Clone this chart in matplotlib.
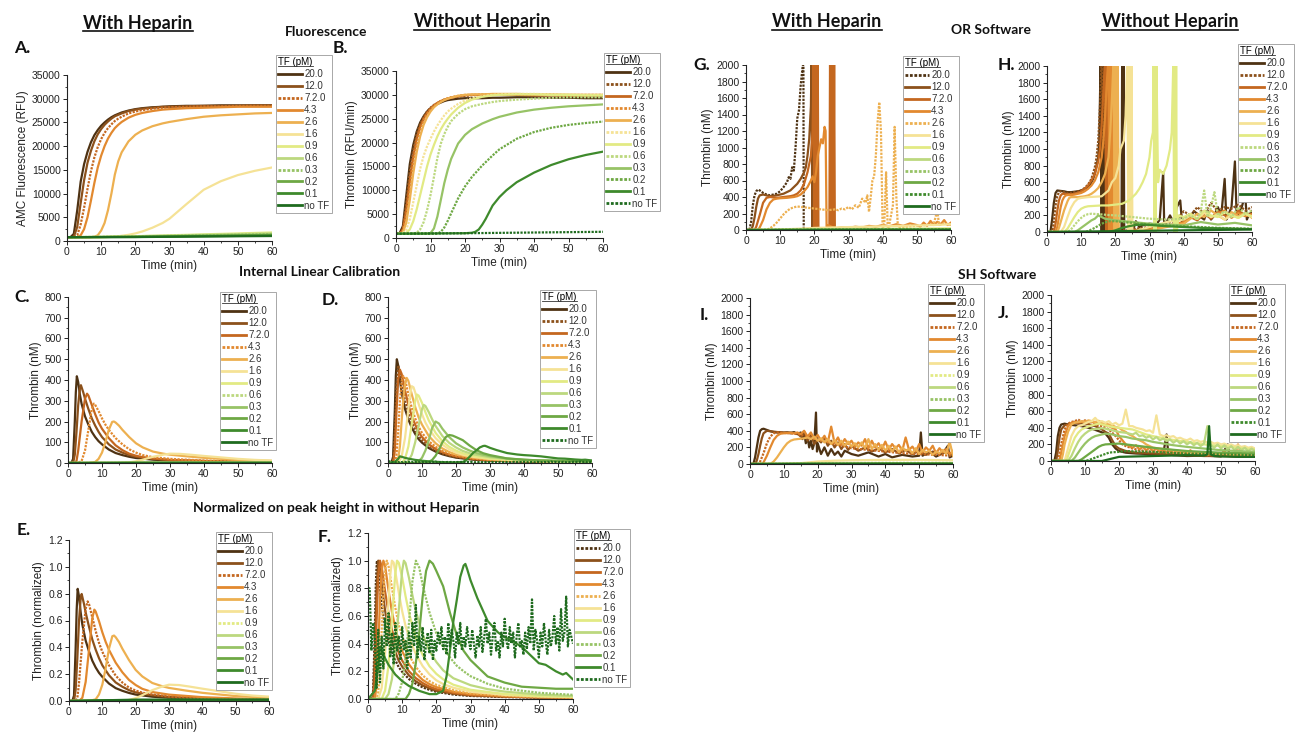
import numpy as np
import matplotlib.pyplot as plt
from matplotlib.lines import Line2D
from matplotlib.transforms import IdentityTransform
from matplotlib.ticker import MultipleLocator, FormatStrFormatter

plt.rcParams['font.family'] = ['Liberation Sans', 'DejaVu Sans']

W, H = 1296, 736

tf_labels = ["20.0", "12.0", "7.2.0", "4.3", "2.6", "1.6", "0.9", "0.6", "0.3", "0.2", "0.1", "no TF"]
tf_colors = ['#4e3213', '#8c511b', '#c4671f', '#e2892f', '#edb050', '#f5e296',
             '#e2ea84', '#bcd87f', '#97c366', '#6ea844', '#3e8a2c', '#1f6b1f']

# peak height of each curve in panel D (without heparin), used for E and F
peak_without = [500, 470, 450, 420, 410, 370, 330, 280, 200, 135, 85, 10]

ab_t = [0, 1, 2, 3, 4, 5, 6, 7, 8, 9, 10, 11, 12, 13, 14, 15, 16, 18, 20, 22, 25, 28, 30, 35, 40, 45, 50, 55, 60]
flat_t = [0, 20, 40, 60]

# ---- A: fluorescence with heparin
a_t = [ab_t] * 7 + [flat_t] * 5
a_y = [
    [800, 800, 1500, 6500, 12500, 16200, 18800, 20800, 22300, 23400, 24300, 25000, 25600, 26100, 26500, 26800, 27100, 27500, 27800, 28000, 28200, 28300, 28400, 28500, 28500, 28600, 28600, 28600, 28600],
    [800, 800, 900, 3000, 8000, 12800, 16500, 19000, 21000, 22500, 23600, 24500, 25200, 25800, 26300, 26600, 26900, 27400, 27700, 27900, 28100, 28300, 28300, 28400, 28500, 28500, 28500, 28600, 28600],
    [800, 800, 800, 1200, 3500, 7000, 11000, 14700, 17600, 19800, 21500, 22800, 23800, 24600, 25300, 25800, 26200, 26900, 27300, 27600, 27900, 28100, 28200, 28300, 28400, 28400, 28500, 28500, 28500],
    [800, 800, 800, 800, 1200, 2500, 5000, 8500, 12200, 15500, 18000, 20000, 21600, 22800, 23800, 24500, 25100, 26000, 26600, 27000, 27400, 27700, 27800, 28000, 28100, 28200, 28300, 28300, 28300],
    [800, 800, 800, 800, 800, 800, 800, 800, 900, 1200, 2200, 3800, 6500, 10000, 14000, 16800, 18700, 21000, 22400, 23300, 24200, 24800, 25100, 25700, 26200, 26500, 26700, 26900, 27000],
    [800, 800, 800, 800, 800, 800, 800, 800, 800, 800, 800, 820, 850, 900, 950, 1000, 1100, 1300, 1600, 2000, 2800, 3800, 4700, 7800, 10800, 12600, 13900, 14800, 15500],
    [800, 800, 800, 800, 800, 800, 800, 800, 800, 800, 820, 830, 850, 870, 890, 910, 930, 970, 1000, 1050, 1100, 1150, 1200, 1300, 1400, 1500, 1600, 1700, 1800],
    [800, 1000, 1300, 1600],
    [800, 950, 1200, 1450],
    [800, 900, 1100, 1300],
    [800, 850, 1000, 1150],
    [800, 830, 950, 1050],
]

# ---- B: fluorescence without heparin
b01_t = [0, 10, 20, 22, 23, 24, 25, 26, 27, 28, 30, 32, 35, 40, 45, 50, 55, 60]
b_t = [ab_t] * 10 + [b01_t, flat_t]
b_y = [
    [900, 900, 2500, 9000, 15500, 19500, 22300, 24200, 25500, 26500, 27200, 27700, 28100, 28400, 28700, 28900, 29000, 29200, 29300, 29300, 29300, 29400, 29400, 29500, 29500, 29400, 29400, 29300, 29300],
    [900, 900, 2000, 7500, 14000, 18500, 21800, 23900, 25400, 26500, 27300, 27900, 28300, 28700, 29000, 29200, 29400, 29600, 29800, 29900, 30000, 30000, 30000, 30000, 29900, 29900, 29800, 29800, 29800],
    [900, 900, 1700, 6000, 12000, 17000, 20800, 23300, 25000, 26200, 27100, 27800, 28300, 28700, 29000, 29200, 29400, 29700, 29900, 30000, 30000, 30000, 30000, 30000, 29900, 29900, 29800, 29800, 29800],
    [900, 900, 1400, 4500, 10000, 15500, 19600, 22500, 24500, 25900, 26900, 27700, 28300, 28700, 29000, 29300, 29500, 29800, 30000, 30000, 30100, 30100, 30100, 30100, 30000, 30000, 30000, 30000, 30000],
    [900, 900, 1200, 3200, 8000, 13500, 18000, 21300, 23700, 25300, 26500, 27400, 28000, 28500, 28900, 29200, 29400, 29800, 30000, 30100, 30100, 30200, 30200, 30200, 30100, 30100, 30000, 30000, 30000],
    [900, 900, 1000, 1800, 4000, 7500, 11000, 14500, 17200, 19200, 20800, 22300, 23600, 24700, 25700, 26500, 27100, 28100, 28800, 29300, 29700, 30000, 30100, 30200, 30200, 30100, 30100, 30000, 30000],
    [900, 900, 950, 1100, 1800, 3500, 6000, 9000, 12000, 15000, 17500, 19500, 21300, 22800, 24000, 25000, 25900, 27300, 28300, 29000, 29600, 29900, 30000, 30100, 30100, 30000, 30000, 29900, 29900],
    [900, 900, 900, 900, 900, 950, 1100, 1800, 3300, 5800, 9000, 12800, 16800, 19800, 21800, 23300, 24500, 26000, 27000, 27600, 28100, 28500, 28700, 29000, 29200, 29400, 29500, 29500, 29500],
    [900, 900, 900, 900, 900, 900, 900, 900, 900, 900, 1000, 2000, 4500, 8000, 11500, 14300, 16600, 19800, 21600, 22800, 24000, 24900, 25400, 26300, 26900, 27300, 27600, 27800, 28000],
    [900, 900, 900, 900, 900, 900, 900, 900, 900, 900, 900, 900, 900, 1300, 2200, 3600, 5200, 8300, 10800, 12800, 15200, 17300, 18600, 20800, 22200, 23100, 23700, 24100, 24400],
    [900, 950, 1000, 1100, 1300, 1800, 2800, 4000, 5400, 6800, 8600, 10000, 11700, 13700, 15300, 16500, 17400, 18100],
    [900, 1000, 1150, 1300],
]

# ---- C: calibrated thrombin with heparin
c_t = [
    [0, 1, 1.5, 2, 2.3, 2.6, 3, 3.5, 4, 5, 6, 7, 8, 9, 10, 12, 14, 16, 18, 20, 25, 30, 40, 50, 60],
    [0, 1.5, 2, 2.5, 3, 3.5, 3.8, 4.5, 5, 6, 7, 8, 9, 10, 12, 14, 16, 18, 20, 25, 30, 40, 50, 60],
    [0, 2, 2.5, 3, 4, 5, 5.6, 6, 7, 8, 9, 10, 12, 14, 16, 18, 20, 22, 25, 30, 40, 50, 60],
    [0, 3, 4, 5, 6, 7, 7.6, 8, 9, 10, 11, 12, 14, 16, 18, 20, 22, 25, 30, 40, 50, 60],
    [0, 6, 8, 9, 10, 11, 12, 13, 13.5, 14, 15, 16, 18, 20, 22, 25, 28, 30, 35, 40, 50, 60],
    [0, 15, 18, 20, 22, 25, 28, 30, 33, 36, 40, 45, 50, 55, 60],
] + [flat_t] * 6
c_y = [
    [0, 0, 20, 200, 340, 418, 390, 330, 285, 225, 185, 150, 125, 105, 90, 65, 48, 38, 30, 24, 16, 12, 8, 5, 4],
    [0, 0, 40, 150, 280, 360, 375, 340, 310, 260, 215, 180, 150, 125, 90, 65, 50, 38, 30, 20, 14, 9, 6, 4],
    [0, 0, 10, 60, 200, 310, 334, 325, 280, 235, 195, 165, 120, 85, 62, 45, 35, 28, 22, 15, 10, 6, 4],
    [0, 0, 10, 60, 160, 260, 286, 280, 250, 215, 185, 160, 120, 90, 66, 50, 38, 28, 20, 12, 8, 5],
    [0, 0, 5, 20, 50, 100, 160, 198, 200, 195, 180, 160, 125, 95, 75, 55, 45, 40, 32, 25, 15, 10],
    [0, 0, 3, 8, 16, 30, 40, 45, 44, 40, 34, 27, 20, 15, 12],
    [0, 2, 3, 3],
    [0, 1, 2, 2],
    [0, 1, 1, 1],
    [0, 1, 1, 1],
    [0, 0.5, 0.8, 0.8],
    [0, 0.1, 0.1, 0.1],
]

# ---- D: calibrated thrombin without heparin
d_t = [
    [0, 1, 1.5, 2, 2.3, 2.6, 3, 3.5, 4, 5, 6, 7, 8, 9, 10, 12, 14, 16, 18, 20, 25, 30, 40, 50, 60],
    [0, 1.5, 2, 2.5, 3, 3.5, 4, 5, 6, 7, 8, 9, 10, 12, 14, 16, 18, 20, 25, 30, 40, 50, 60],
    [0, 1.5, 2, 2.5, 3, 3.5, 4, 5, 6, 7, 8, 9, 10, 12, 14, 16, 18, 20, 25, 30, 40, 50, 60],
    [0, 2, 2.5, 3, 3.5, 4, 4.5, 5, 6, 7, 8, 9, 10, 12, 14, 16, 18, 20, 25, 30, 40, 50, 60],
    [0, 2.5, 3, 3.5, 4, 4.5, 5, 5.5, 6, 7, 8, 9, 10, 12, 14, 16, 18, 20, 25, 30, 40, 50, 60],
    [0, 3, 4, 5, 6, 6.5, 7, 7.5, 8, 9, 10, 11, 12, 14, 16, 18, 20, 22, 25, 30, 40, 50, 60],
    [0, 4, 5, 6, 7, 8, 8.5, 9, 10, 11, 12, 14, 16, 18, 20, 22, 25, 30, 40, 50, 60],
    [0, 5, 6, 7, 8, 9, 10, 10.5, 11, 12, 13, 14, 16, 18, 20, 22, 25, 30, 35, 40, 50, 60],
    [0, 8, 9, 10, 11, 12, 13, 14, 15, 16, 18, 20, 22, 24, 26, 28, 30, 35, 40, 50, 60],
    [0, 11, 12, 13, 14, 15, 16, 17, 18, 19, 20, 22, 24, 26, 28, 30, 35, 40, 45, 50, 55, 60],
    [0, 2, 3, 3.5, 4, 5, 6, 8, 10, 12, 15, 18, 20, 22, 23, 24, 25, 26, 27, 28, 28.5, 29, 30, 32, 35, 38, 40, 42, 45, 48, 50, 52, 55, 57, 58, 60],
    list(np.linspace(0, 60, 121)),
]
d_y = [
    [0, 0, 30, 250, 420, 500, 470, 400, 340, 260, 210, 170, 140, 115, 98, 72, 55, 42, 33, 26, 16, 11, 7, 5, 4],
    [0, 0, 150, 370, 470, 440, 390, 300, 240, 195, 160, 130, 110, 80, 60, 46, 36, 28, 18, 12, 8, 5, 4],
    [0, 0, 60, 250, 400, 450, 430, 350, 280, 225, 185, 150, 125, 90, 68, 52, 40, 32, 20, 13, 8, 5, 4],
    [0, 0, 40, 150, 300, 390, 420, 405, 330, 265, 215, 175, 145, 105, 78, 58, 45, 36, 22, 15, 9, 6, 4],
    [0, 0, 20, 80, 200, 310, 380, 410, 395, 330, 270, 220, 185, 130, 95, 70, 53, 42, 26, 17, 10, 6, 4],
    [0, 0, 30, 120, 260, 330, 370, 365, 340, 285, 235, 195, 165, 120, 88, 66, 50, 40, 30, 20, 11, 7, 5],
    [0, 0, 20, 80, 190, 300, 330, 325, 290, 245, 205, 145, 105, 78, 60, 47, 34, 22, 12, 7, 5],
    [0, 0, 10, 40, 100, 180, 260, 280, 275, 245, 210, 178, 130, 97, 75, 58, 42, 28, 20, 15, 9, 6],
    [0, 0, 8, 25, 60, 110, 170, 200, 190, 165, 125, 95, 75, 60, 48, 40, 33, 22, 15, 9, 6],
    [0, 0, 5, 15, 35, 65, 100, 125, 135, 132, 125, 110, 84, 62, 47, 38, 22, 16, 12, 11, 10, 10],
    [0, 5, 20, 32, 30, 25, 21, 15, 11, 8, 5, 3, 3, 5, 14, 30, 48, 61, 75, 82, 83, 80, 73, 62, 48, 41, 38, 36, 32, 26, 22, 21, 17, 15, 16, 12],
    [8.0, 8.0, 3.5, 5.5, 4.5, 0.8, 5.0, 1.2, 4.5, 2.2,
     5.8, 3.8, 6.2, 3.0, 4.8, 2.5, 5.5, 3.5, 4.5, 2.8,
     5.2, 3.5, 4.2, 2.2, 4.8, 3.0, 5.5, 3.8, 6.8, 3.0,
     4.5, 3.5, 5.2, 2.8, 4.0, 4.8, 3.3, 5.0, 2.8, 4.2,
     3.5, 4.8, 4.0, 5.2, 3.6, 4.5, 3.2, 5.5, 3.8, 5.0,
     4.2, 3.0, 4.8, 4.0, 5.5, 3.5, 4.5, 3.8, 5.2, 4.2,
     3.6, 5.0, 4.0, 3.0, 4.6, 3.8, 5.2, 3.4, 4.4, 5.8,
     4.0, 4.8, 3.2, 4.5, 5.5, 3.5, 4.2, 3.0, 4.8, 3.8,
     5.8, 4.2, 3.6, 5.2, 4.0, 4.8, 3.0, 4.5, 5.5, 3.8,
     4.2, 3.2, 4.8, 3.6, 5.2, 4.0, 7.2, 3.5, 5.0, 4.2,
     3.0, 4.8, 3.8, 5.5, 4.2, 3.2, 5.0, 3.8, 4.5, 6.0,
     4.0, 5.2, 3.5, 6.5, 4.2, 4.8, 7.4, 3.8, 5.0, 4.5,
     4.0],
]

# ---- E, F: normalized on the peak height without heparin
e_t = c_t
e_y = [np.array(c_y[i]) / peak_without[i] for i in range(12)]
f_t = d_t
f_y = [np.array(d_y[i]) / peak_without[i] for i in range(12)]

# ---- G: OR software, with heparin
g_t = [
    [0, 1, 1.5, 2, 2.5, 3, 3.5, 4, 5, 6, 7, 8, 9, 10, 11, 12, 12.5, 13, 13.5, 14, 14.5, 15, 15.5, 16, 16.5, 16.8, 16.9, 30, 60],
    [0, 1.5, 2, 2.5, 3, 3.5, 4, 5, 6, 7, 8, 9, 10, 11, 12, 13, 14, 15, 16, 17, 17.5, 18, 18.5, 19, 19.2, 19.4, 19.6, 19.8, 20, 20.2, 20.4, 20.6, 20.8, 21, 21.2, 30, 60],
    [0, 2.5, 3, 4, 5, 6, 7, 8, 9, 10, 11, 12, 13, 14, 15, 16, 17, 18, 19, 19.5, 19.8, 20, 20.2, 20.4, 20.6, 20.8, 21, 21.2, 21.4, 24.4, 24.6, 24.8, 25, 25.2, 25.4, 25.6, 25.8, 26, 30, 60],
    [0, 3.5, 4, 5, 6, 7, 8, 9, 10, 12, 14, 15, 16, 17, 18, 19, 19.5, 20, 20.5, 21, 21.5, 22, 22.5, 23, 23.3, 23.6, 24, 26, 28, 30, 32, 34, 36, 38, 40, 42, 44, 46, 48, 50, 51, 52, 53, 54, 55, 56, 57, 58, 59, 60],
    [0, 6, 7, 8, 9, 10, 11, 12, 13, 14, 15, 16, 18, 20, 22, 24, 26, 27, 28, 29, 30, 31, 32, 33, 34, 35, 35.5, 36, 36.5, 37, 37.5, 38, 38.5, 39, 39.5, 40, 40.5, 41, 41.5, 42, 43, 43.5, 44, 44.5, 45, 47, 50, 53, 55, 56, 56.5, 58, 60],
    [0, 8, 10, 15, 20, 25, 30, 35, 40, 45, 50, 55, 60],
] + [flat_t] * 6
g_y = [
    [0, 0, 100, 300, 420, 470, 490, 480, 450, 430, 420, 430, 440, 470, 520, 580, 640, 620, 760, 720, 1000, 1350, 1450, 1750, 1950, 2050, 0, 0, 0],
    [0, 0, 50, 150, 280, 380, 420, 430, 420, 410, 415, 420, 430, 440, 460, 480, 520, 560, 620, 700, 760, 900, 1100, 1500, 2100, 0, 2100, 0, 2100, 0, 2100, 0, 2100, 0, 0, 0, 0],
    [0, 0, 40, 180, 330, 390, 400, 395, 390, 395, 400, 405, 410, 420, 440, 480, 560, 700, 900, 1200, 2100, 0, 2100, 0, 2100, 0, 2100, 0, 0, 0, 2100, 0, 2100, 0, 2100, 0, 2100, 0, 0, 0],
    [0, 0, 30, 120, 250, 330, 370, 380, 385, 390, 400, 410, 430, 470, 520, 600, 650, 580, 700, 900, 1000, 1100, 1050, 1250, 1200, 0, 60, 20, 30, 25, 40, 30, 50, 40, 60, 45, 70, 50, 80, 60, 40, 90, 50, 110, 60, 100, 70, 120, 60, 90],
    [0, 0, 20, 50, 90, 140, 190, 230, 260, 275, 285, 280, 270, 260, 250, 240, 250, 240, 260, 250, 280, 250, 300, 270, 380, 330, 420, 220, 400, 600, 650, 900, 1300, 1550, 1200, 0, 100, 700, 0, 80, 300, 1250, 400, 0, 30, 40, 50, 60, 80, 240, 60, 80, 60],
    [0, 0, 5, 15, 25, 30, 35, 40, 45, 50, 55, 60, 70],
    [0, 10, 15, 20],
    [0, 5, 8, 10],
    [0, 4, 6, 8],
    [0, 3, 5, 6],
    [0, 2, 3, 4],
    [0, 1, 2, 2],
]

# ---- H: OR software, without heparin
h_t = [
    [0, 1, 1.5, 2, 2.5, 3, 4, 5, 6, 7, 8, 9, 10, 11, 12, 12.5, 13, 13.5, 14, 14.5, 15, 15.3, 15.7, 16, 16.2, 16.4, 16.6, 16.8, 20, 21.8, 22, 22.2, 22.4, 22.6, 25, 26, 27, 28, 30, 32, 33, 34, 34.3, 35, 36, 37, 38, 39, 39.5, 40, 41, 42, 43, 44, 45, 46, 47, 48, 49, 50, 51, 52, 52.5, 53, 54, 55, 55.5, 56, 57, 58, 58.5, 59, 60],
    [0, 1.5, 2, 2.5, 3, 3.5, 4, 5, 6, 7, 8, 9, 10, 11, 12, 13, 14, 14.5, 15, 15.5, 16, 16.5, 17, 17.5, 18, 30, 35, 38, 40, 42, 44, 46, 48, 50, 52, 54, 56, 58, 60],
    [0, 2, 2.5, 3, 3.5, 4, 4.5, 5, 6, 7, 8, 9, 10, 11, 12, 13, 14, 15, 15.5, 16, 16.5, 17, 17.3, 17.6, 17.9, 18.2, 18.5, 18.8, 19.1, 20, 30, 40, 42, 44, 46, 48, 50, 52, 54, 56, 58, 60],
    [0, 2.5, 3, 3.5, 4, 4.5, 5, 5.5, 6, 7, 8, 9, 10, 11, 12, 13, 14, 15, 16, 16.5, 17, 17.5, 18, 18.3, 18.6, 18.9, 19.2, 19.5, 20, 30, 40, 42, 44, 46, 48, 50, 52, 54, 56, 58, 60],
    [0, 3, 3.5, 4, 5, 6, 6.5, 7, 8, 9, 10, 11, 12, 13, 14, 15, 16, 17, 18, 18.5, 19, 19.5, 19.8, 20.1, 20.4, 20.7, 21, 30, 40, 42, 44, 46, 48, 50, 52, 54, 56, 58, 60],
    [0, 4, 5, 6, 7, 8, 9, 10, 12, 14, 16, 18, 19, 20, 21, 21.5, 22, 22.5, 23, 23.5, 23.8, 24.1, 24.4, 24.7, 25, 30, 35, 40, 42, 44, 46, 48, 50, 52, 54, 56, 58, 60],
    [0, 5, 6, 7, 8, 9, 10, 11, 12, 14, 16, 18, 20, 22, 24, 25, 26, 27, 28, 29, 29.5, 30, 30.5, 31, 31.2, 31.4, 31.6, 31.8, 32, 32.5, 33, 34, 35, 36, 36.5, 37, 37.2, 37.4, 37.6, 37.8, 38, 38.5, 40, 42, 44, 46, 48, 50, 52, 54, 56, 58, 60],
    [0, 6, 7, 8, 9, 10, 11, 12, 13, 15, 18, 20, 25, 30, 35, 40, 42, 44, 45, 46, 47, 48, 49, 50, 52, 54, 56, 58, 60],
    [0, 8, 9, 10, 11, 12, 13, 14, 15, 15.5, 17, 20, 25, 30, 35, 40, 45, 50, 55, 60],
    [0, 11, 12, 14, 16, 18, 20, 22, 25, 30, 35, 40, 45, 50, 55, 60],
    [0, 18, 20, 22, 24, 26, 28, 30, 35, 40, 45, 50, 55, 60],
    [0, 10, 20, 30, 40, 50, 60],
]
h_y = [
    [0, 0, 150, 350, 470, 500, 495, 490, 480, 480, 485, 490, 500, 520, 540, 560, 600, 640, 700, 800, 900, 1100, 2100, 0, 2100, 0, 2100, 0, 0, 0, 2100, 0, 2100, 0, 0, 130, 60, 80, 100, 90, 150, 720, 100, 120, 200, 120, 300, 380, 120, 150, 200, 180, 250, 220, 180, 150, 260, 150, 200, 300, 200, 640, 150, 200, 300, 850, 200, 220, 300, 450, 150, 200, 250],
    [0, 0, 120, 320, 430, 480, 490, 480, 470, 470, 480, 490, 500, 530, 570, 640, 780, 900, 1100, 1500, 2100, 1000, 2100, 0, 0, 60, 100, 150, 250, 200, 300, 220, 350, 250, 300, 280, 330, 260, 300],
    [0, 0, 100, 250, 380, 440, 460, 460, 455, 455, 460, 470, 490, 520, 560, 620, 700, 850, 1000, 1300, 1700, 2100, 0, 2100, 0, 2100, 0, 2100, 0, 0, 40, 100, 180, 140, 220, 160, 250, 200, 180, 260, 200, 220],
    [0, 0, 60, 180, 300, 380, 420, 440, 445, 445, 450, 460, 470, 490, 520, 560, 620, 720, 900, 1100, 1400, 1800, 2100, 0, 2100, 0, 2100, 0, 0, 30, 120, 200, 160, 240, 180, 220, 260, 170, 230, 190, 210],
    [0, 0, 50, 120, 260, 370, 410, 420, 420, 420, 425, 430, 440, 460, 490, 530, 600, 700, 900, 1200, 1600, 2100, 0, 2100, 0, 2100, 0, 20, 100, 160, 220, 180, 260, 200, 150, 240, 190, 230, 170],
    [0, 0, 60, 180, 290, 360, 400, 410, 420, 425, 430, 500, 600, 650, 800, 1000, 1050, 1100, 1400, 2100, 0, 2100, 0, 2100, 0, 60, 120, 150, 200, 160, 230, 180, 210, 150, 200, 170, 220, 180],
    [0, 0, 40, 110, 180, 240, 280, 300, 310, 315, 320, 320, 330, 340, 380, 420, 460, 520, 600, 700, 800, 900, 1100, 1200, 2100, 0, 2100, 0, 2100, 600, 750, 700, 800, 1000, 1200, 2100, 0, 2100, 0, 2100, 0, 200, 180, 220, 160, 260, 200, 180, 240, 200, 170, 220, 190],
    [0, 0, 30, 80, 130, 170, 200, 215, 220, 215, 205, 200, 180, 160, 150, 160, 200, 150, 250, 500, 180, 300, 480, 200, 250, 180, 300, 220, 260],
    [0, 0, 20, 50, 80, 110, 140, 160, 200, 190, 160, 140, 120, 100, 90, 80, 120, 90, 110, 80],
    [0, 0, 10, 50, 100, 130, 130, 120, 110, 90, 80, 70, 60, 50, 45, 40],
    [0, 0, 20, 50, 70, 85, 90, 85, 70, 60, 50, 45, 40, 35],
    [0, 5, 10, 15, 20, 25, 30],
]

# ---- I: SH software, with heparin
i_t = [
    [0, 1, 1.5, 2, 2.5, 3, 3.5, 4, 5, 6, 7, 8, 9, 10, 11, 12, 13, 14, 15, 15.5, 16, 16.5, 17, 17.5, 18, 18.5, 19, 19.5, 19.8, 20, 21, 22, 23, 24, 25, 26, 27, 28, 30, 32, 35, 38, 40, 42, 45, 48, 50, 50.5, 51, 53, 55, 57, 58.5, 59, 60],
    [0, 1.5, 2, 2.5, 3, 3.5, 4, 5, 6, 7, 8, 10, 12, 14, 15, 16, 17, 18, 19, 20, 21, 22, 23, 24, 25, 26, 27, 28, 29, 30, 32, 34, 36, 38, 40, 42, 44, 46, 48, 50, 52, 54, 56, 58, 60],
    [0, 2.5, 3, 4, 5, 6, 7, 8, 10, 12, 14, 16, 18, 20, 22, 24, 26, 28, 30, 35, 40, 45, 50, 55, 60],
    [0, 3.5] + list(range(4, 61)),
    [0] + list(range(6, 61)),
    [0, 10, 15, 20, 25, 30, 40, 50, 60],
] + [flat_t] * 6
i_y = [
    [0, 0, 80, 200, 320, 400, 420, 425, 410, 395, 385, 380, 380, 375, 380, 370, 385, 360, 380, 300, 370, 250, 330, 200, 280, 180, 250, 620, 150, 250, 120, 200, 100, 180, 110, 150, 90, 160, 120, 100, 140, 90, 120, 80, 110, 90, 100, 380, 100, 150, 90, 130, 220, 80, 100],
    [0, 0, 40, 120, 220, 310, 370, 400, 395, 390, 385, 380, 380, 370, 330, 390, 280, 350, 240, 300, 260, 320, 220, 280, 200, 260, 180, 240, 170, 220, 160, 200, 150, 190, 140, 180, 130, 170, 120, 160, 110, 150, 120, 140, 110],
    [0, 0, 30, 130, 250, 330, 370, 380, 375, 370, 360, 340, 320, 300, 280, 250, 230, 210, 190, 170, 150, 130, 120, 110, 100],
    [0, 0, 20, 100, 200, 290, 340, 365, 370, 372, 375, 368, 380, 360, 400, 330, 380, 300, 350, 280, 340, 260, 450, 250, 320, 230, 300, 240, 280, 210, 260, 220, 300, 190, 280, 200, 250, 180, 270, 170, 240, 190, 230, 160, 320, 170, 210, 150, 240, 140, 200, 160, 220, 130, 190, 140, 180, 120, 160],
    [0, 0, 30, 80, 140, 200, 250, 280, 295, 300, 305, 310, 320, 300, 330, 280, 310, 260, 300, 240, 290, 230, 280, 220, 270, 210, 250, 200, 260, 190, 300, 180, 240, 170, 230, 160, 220, 150, 210, 140, 200, 160, 180, 130, 190, 120, 170, 140, 160, 110, 150, 130, 170, 120, 270, 100],
    [0, 0, 10, 30, 40, 45, 50, 50, 45],
    [0, 10, 15, 15],
    [0, 4, 6, 6],
    [0, 3, 5, 5],
    [0, 2, 4, 4],
    [0, 2, 3, 3],
    [0, 1, 2, 2],
]

# ---- J: SH software, without heparin
j_t = [
    [0, 1, 1.5, 2, 2.5, 3, 4, 5, 7, 9, 10, 12, 14, 16, 17, 18, 19, 20, 22, 25, 28, 30, 33, 34, 34.5, 36, 40, 45, 50, 52, 52.5, 55, 60],
    [0, 1.5, 2, 2.5, 3, 4, 5, 6, 7, 8, 9, 10, 11, 12, 13, 14, 15, 16, 17, 18, 19, 20, 22, 25, 30, 35, 40, 45, 50, 55, 60],
    [0, 2, 2.5, 3, 4, 5, 6, 7, 8, 9, 10, 11, 12, 13, 14, 15, 16, 17, 18, 19, 20, 21, 22, 24, 26, 28, 30, 35, 40, 45, 50, 55, 60],
    [0, 2.5] + list(range(3, 61)),
    [0, 3, 3.5, 4, 5, 6, 7, 8, 9, 10, 11, 12, 13, 14, 15, 16, 17, 18, 19, 20, 21, 22, 23, 24, 25, 26, 27, 28, 29, 30, 32, 34, 36, 38, 40, 42, 44, 46, 48, 50, 52, 54, 56, 58, 60],
    [0, 4] + list(range(5, 61)),
    [0, 4.5, 5, 6, 7, 8, 9, 10, 12, 14, 16, 18, 20, 22, 24, 26, 28, 30, 35, 40, 45, 50, 55, 60],
    [0, 5] + list(range(6, 61)),
    [0, 6, 7, 8, 9, 10, 11, 12, 13, 14, 16, 18, 20, 22, 24, 26, 28, 30, 33, 36, 40, 45, 50, 55, 60],
    [0, 8, 9, 10, 11, 12, 13, 14, 15, 16, 18, 20, 23, 26, 29, 32, 36, 40, 45, 50, 55, 60],
    [0, 10, 11, 12, 13, 14, 15, 16, 17, 18, 20, 22, 25, 30, 35, 40, 45, 50, 55, 60],
    [0, 15, 17, 20, 25, 30, 35, 40, 45, 46, 46.5, 47, 48, 50, 55, 60],
]
j_y = [
    [0, 0, 100, 300, 400, 440, 450, 440, 430, 420, 410, 390, 360, 330, 280, 200, 150, 120, 100, 90, 85, 80, 85, 320, 80, 70, 60, 65, 55, 200, 60, 55, 50],
    [0, 0, 120, 280, 380, 430, 440, 450, 460, 450, 455, 440, 445, 430, 420, 400, 380, 350, 330, 250, 180, 150, 120, 100, 90, 80, 70, 60, 60, 55, 50],
    [0, 0, 80, 200, 380, 450, 470, 480, 500, 470, 490, 460, 470, 440, 430, 420, 400, 380, 340, 300, 250, 200, 180, 150, 130, 120, 110, 100, 90, 80, 70, 65, 60],
    [0, 0, 100, 300, 420, 460, 470, 465, 470, 480, 475, 470, 460, 455, 450, 430, 420, 400, 380, 300, 250, 200, 180, 160, 190, 140, 170, 130, 160, 120, 150, 110, 140, 100, 130, 95, 120, 90, 110, 85, 130, 80, 100, 75, 110, 70, 100, 80, 95, 70, 120, 65, 90, 60, 200, 70, 90, 60, 110, 80],
    [0, 0, 80, 200, 350, 440, 460, 470, 480, 470, 490, 480, 470, 485, 460, 450, 440, 430, 410, 400, 370, 350, 320, 300, 270, 250, 230, 200, 180, 160, 150, 140, 130, 120, 110, 100, 90, 95, 85, 90, 80, 75, 80, 70, 65],
    [0, 0, 150, 300, 380, 420, 430, 450, 470, 480, 520, 470, 480, 460, 480, 440, 460, 430, 450, 620, 420, 420, 400, 390, 380, 360, 370, 340, 550, 320, 300, 310, 290, 300, 270, 280, 260, 250, 270, 240, 250, 230, 240, 220, 230, 210, 220, 200, 210, 190, 200, 180, 190, 170, 180, 160, 170, 150],
    [0, 0, 60, 180, 280, 340, 380, 400, 430, 450, 430, 410, 400, 390, 380, 350, 320, 300, 260, 230, 200, 180, 160, 140],
    [0, 0, 60, 150, 230, 290, 330, 360, 380, 385, 390, 395, 390, 380, 370, 360, 350, 345, 340, 330, 320, 340, 300, 310, 280, 300, 260, 290, 250, 270, 240, 260, 220, 250, 210, 240, 200, 230, 190, 220, 180, 210, 420, 190, 160, 200, 150, 190, 140, 180, 130, 170, 130, 160, 120, 150, 120],
    [0, 0, 40, 100, 160, 210, 250, 280, 300, 310, 330, 320, 300, 290, 270, 260, 250, 230, 210, 190, 170, 150, 130, 120, 110],
    [0, 0, 20, 50, 80, 110, 140, 170, 190, 200, 205, 210, 195, 180, 165, 150, 135, 120, 110, 100, 95, 90],
    [0, 0, 10, 25, 40, 55, 70, 85, 100, 105, 110, 120, 115, 110, 100, 90, 85, 80, 75, 70],
    [0, 0, 20, 50, 55, 60, 65, 70, 65, 80, 420, 80, 60, 55, 50, 50],
]

fig = plt.figure(figsize=(W / 100, H / 100), dpi=100)
legends = []


def px_rect(x0, x1, ytop, ybot):
    return [x0 / W, 1 - ybot / H, (x1 - x0) / W, (ybot - ytop) / H]


def draw_panel(rect, times, values, dotted, ylim, ymajor, yminor, ylabel, leg_xy, yfmt=None, lw=1.6):
    ax = fig.add_axes(px_rect(*rect))
    for i in range(12):
        ls = (0, (1.0, 0.6)) if i in dotted else '-'
        ax.plot(times[i], values[i], color=tf_colors[i], lw=lw, ls=ls, label=tf_labels[i])
    ax.set_xlim(0, 60)
    ax.set_ylim(*ylim)
    ax.xaxis.set_major_locator(MultipleLocator(10))
    ax.xaxis.set_minor_locator(MultipleLocator(5))
    ax.yaxis.set_major_locator(MultipleLocator(ymajor))
    ax.yaxis.set_minor_locator(MultipleLocator(yminor))
    if yfmt:
        ax.yaxis.set_major_formatter(FormatStrFormatter(yfmt))
    for s in ['top', 'right']:
        ax.spines[s].set_visible(False)
    for s in ['left', 'bottom']:
        ax.spines[s].set_linewidth(0.8)
        ax.spines[s].set_color('#222222')
    ax.tick_params(which='major', direction='out', length=3, width=0.7, labelsize=7.5, colors='#222222', pad=1.5)
    ax.tick_params(which='minor', direction='out', length=1.6, width=0.6, colors='#222222')
    ax.set_xlabel('Time (min)', fontsize=8.5, labelpad=2, color='#222222')
    ax.set_ylabel(ylabel, fontsize=8.5, labelpad=2, color='#222222')
    leg = ax.legend(loc='upper left', bbox_to_anchor=(leg_xy[0] / W, 1 - leg_xy[1] / H),
                    bbox_transform=fig.transFigure, title='TF (pM)', fontsize=7,
                    title_fontsize=7, alignment='left', handlelength=2.4, handletextpad=0.25,
                    labelspacing=0.2, borderpad=0.25, borderaxespad=0, fancybox=False,
                    framealpha=1, edgecolor='#9a9a9a')
    leg.get_frame().set_linewidth(0.6)
    for line in leg.get_lines():
        line.set_linewidth(2.0)
    for txt in leg.get_texts():
        txt.set_color('#333333')
    legends.append(leg)
    return ax


draw_panel((67, 272, 75, 241), a_t, a_y, [2, 8], (0, 35000), 5000, 2500,
           'AMC Fluorescence (RFU)', (276, 55))
draw_panel((396, 603, 71, 238), b_t, b_y, [1, 3, 5, 7, 9, 11], (0, 35000), 5000, 2500,
           'Thrombin (RFU/min)', (604, 53))
draw_panel((68, 272, 297, 463), c_t, c_y, [3, 7], (0, 800), 100, 50,
           'Thrombin (nM)', (220, 292))
draw_panel((388, 592, 297, 463), d_t, d_y, [1, 3, 11], (0, 800), 100, 50,
           'Thrombin (nM)', (540, 290))
draw_panel((69, 269, 540, 701), e_t, e_y, [2, 6], (0, 1.2), 0.2, 0.1,
           'Thrombin (normalized)', (216, 532), yfmt='%.1f')
draw_panel((368, 573, 533, 699), f_t, f_y, [0, 4, 8, 11], (0, 1.2), 0.2, 0.1,
           'Thrombin (normalized)', (574, 529), yfmt='%.1f')
draw_panel((746, 951, 65, 230), g_t, g_y, [0, 4, 8, 10], (0, 2000), 200, 100,
           'Thrombin (nM)', (903, 56))
draw_panel((1047, 1252, 66, 232), h_t, h_y, [1, 7, 9], (0, 2000), 200, 100,
           'Thrombin (nM)', (1238, 44))
draw_panel((750, 953, 298, 464), i_t, i_y, [2, 6, 8], (0, 2000), 200, 100,
           'Thrombin (nM)', (928, 284))
draw_panel((1051, 1255, 295, 461), j_t, j_y, [2, 10], (0, 2000), 200, 100,
           'Thrombin (nM)', (1229, 284))

bold_font = ['Lato', 'DejaVu Sans']
headers = [(138, 23, 'With Heparin'), (482, 22, 'Without Heparin'),
           (827, 22, 'With Heparin'), (1170, 22, 'Without Heparin')]
header_texts = []
for x, y, s in headers:
    header_texts.append(fig.text(x / W, 1 - y / H, s, ha='center', va='center', fontsize=13,
                                 fontweight='bold', family=bold_font, color='#111111'))

sections = [(326, 32, 'Fluorescence'), (320, 272, 'Internal Linear Calibration'),
            (336, 508, 'Normalized on peak height in without Heparin'),
            (991, 30, 'OR Software'), (997, 275, 'SH Software')]
for x, y, s in sections:
    fig.text(x / W, 1 - y / H, s, ha='center', va='center', fontsize=10,
             fontweight='bold', family=bold_font, color='#111111')

letters = [(14, 48, 'A.'), (333, 48, 'B.'), (14, 297, 'C.'), (322, 300, 'D.'),
           (17, 530, 'E.'), (318, 537, 'F.'), (693, 65, 'G.'), (998, 65, 'H.'),
           (700, 315, 'I.'), (998, 313, 'J.')]
for x, y, s in letters:
    fig.text(x / W, 1 - y / H, s, ha='left', va='center', fontsize=12.5,
             fontweight='bold', family=bold_font, color='#111111')

# underline headers and legend titles
fig.canvas.draw()
renderer = fig.canvas.get_renderer()
for t in header_texts:
    bb = t.get_window_extent(renderer)
    fig.add_artist(Line2D([bb.x0, bb.x1], [bb.y0 + 1, bb.y0 + 1], transform=IdentityTransform(),
                          color='#111111', lw=1.2))
for leg in legends:
    bb = leg.get_title().get_window_extent(renderer)
    fig.add_artist(Line2D([bb.x0, bb.x1], [bb.y0 + 1, bb.y0 + 1], transform=IdentityTransform(),
                          color='#333333', lw=0.6))

fig.savefig('out.png', dpi=100)
